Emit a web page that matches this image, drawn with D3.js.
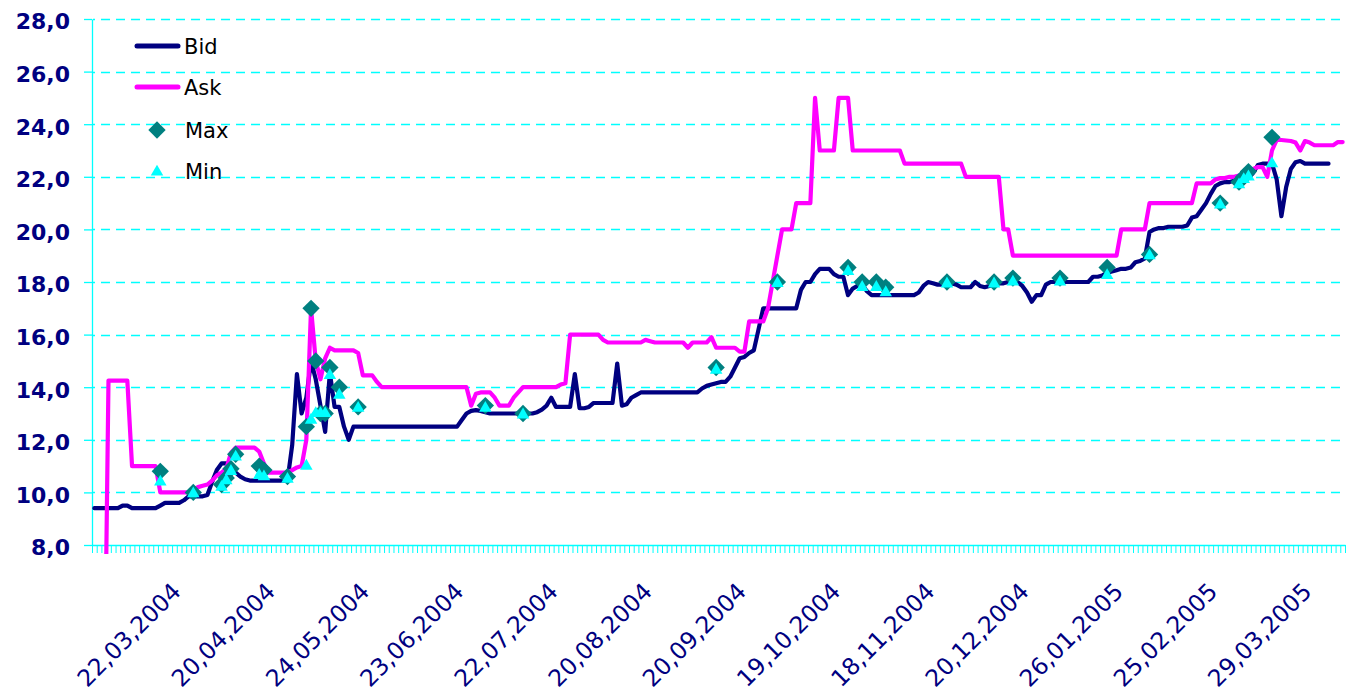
<!DOCTYPE html>
<html>
<head>
<meta charset="utf-8">
<script src="https://cdn.jsdelivr.net/npm/d3@7"></script>
<style>
  body { margin: 0; background: #fff; }
  svg { display: block; font-family: "DejaVu Sans", sans-serif; }
</style>
</head>
<body>
<svg id="chart" width="1350" height="691"></svg>
<script>
// one category per trading day, labels every 20th day
var categoryCount = 266;
var firstLabel = 17, labelEvery = 20;
var tickLabels = ["22,03,2004", "20,04,2004", "24,05,2004", "23,06,2004", "22,07,2004",
  "20,08,2004", "20,09,2004", "19,10,2004", "18,11,2004", "20,12,2004",
  "26,01,2005", "25,02,2005", "29,03,2005"];
var yTicks = [8, 10, 12, 14, 16, 18, 20, 22, 24, 26, 28];

var bid = [
  9.4, 9.4, 9.4, 9.4, 9.4, 9.4, 9.5, 9.5, 9.4, 9.4,
  9.4, 9.4, 9.4, 9.4, 9.5, 9.6, 9.6, 9.6, 9.6, 9.7,
  9.85, 9.85, 9.85, 9.85, 9.9, 10.4, 10.85, 11.1, 11.1, 10.9,
  10.75, 10.6, 10.5, 10.45, 10.45, 10.45, 10.45, 10.45, 10.45, 10.45,
  10.45, 10.45, 11.8, 14.5, 13.0, 13.6, 15.0, 14.3, 13.3, 12.3,
  14.55, 13.25, 13.25, 12.5, 12.0, 12.5, 12.5, 12.5, 12.5, 12.5,
  12.5, 12.5, 12.5, 12.5, 12.5, 12.5, 12.5, 12.5, 12.5, 12.5,
  12.5, 12.5, 12.5, 12.5, 12.5, 12.5, 12.5, 12.5, 12.75, 13.0,
  13.1, 13.13, 13.1, 13.05, 13.0, 13.0, 13.0, 13.0, 13.0, 13.0,
  13.0, 13.0, 13.0, 13.0, 13.05, 13.15, 13.3, 13.6, 13.25, 13.25,
  13.25, 13.25, 14.5, 13.2, 13.2, 13.25, 13.4, 13.4, 13.4, 13.4,
  13.4, 14.9, 13.3, 13.35, 13.6, 13.7, 13.8, 13.8, 13.8, 13.8,
  13.8, 13.8, 13.8, 13.8, 13.8, 13.8, 13.8, 13.8, 13.8, 13.95,
  14.05, 14.1, 14.15, 14.2, 14.2, 14.4, 14.75, 15.1, 15.15, 15.3,
  15.4, 16.2, 17.0, 17.0, 17.0, 17.0, 17.0, 17.0, 17.0, 17.0,
  17.7, 18.0, 18.0, 18.3, 18.5, 18.5, 18.5, 18.3, 18.2, 18.2,
  17.5, 17.75, 17.85, 17.9, 17.65, 17.5, 17.5, 17.5, 17.5, 17.5,
  17.5, 17.5, 17.5, 17.5, 17.5, 17.6, 17.85, 18.0, 17.95, 17.9,
  17.9, 17.95, 17.95, 17.9, 17.8, 17.8, 17.8, 18.0, 17.85, 17.8,
  17.85, 17.9, 17.95, 17.95, 18.0, 18.0, 18.0, 17.85, 17.6, 17.25,
  17.5, 17.5, 17.9, 18.0, 18.0, 18.0, 18.0, 18.0, 18.0, 18.0,
  18.0, 18.0, 18.2, 18.2, 18.25, 18.35, 18.4, 18.45, 18.5, 18.5,
  18.55, 18.75, 18.8, 18.9, 19.9, 20.0, 20.05, 20.05, 20.1, 20.1,
  20.1, 20.1, 20.15, 20.45, 20.5, 20.75, 21.0, 21.35, 21.65, 21.75,
  21.8, 21.8, 21.85, 21.95, 21.95, 21.95, 22.15, 22.45, 22.5, 22.5,
  22.5, 21.9, 20.5, 21.6, 22.3, 22.55, 22.6, 22.5, 22.5, 22.5,
  22.5, 22.5, 22.5, null, null, null
];

var ask = [
  0, 0, 0, 14.25, 14.25, 14.25, 14.25, 14.25, 11.0, 11.0,
  11.0, 11.0, 11.0, 11.0, 10.0, 10.0, 10.0, 10.0, 10.0, 10.0,
  10.0, 10.1, 10.2, 10.25, 10.3, 10.45, 10.65, 10.75, 10.9, 11.5,
  11.7, 11.7, 11.7, 11.7, 11.7, 11.55, 11.1, 10.75, 10.75, 10.75,
  10.75, 10.75, 10.85, 10.95, 11.0, 12.0, 17.0, 15.0, 14.3, 15.1,
  15.5, 15.4, 15.4, 15.4, 15.4, 15.4, 15.3, 14.45, 14.45, 14.45,
  14.2, 14.0, 14.0, 14.0, 14.0, 14.0, 14.0, 14.0, 14.0, 14.0,
  14.0, 14.0, 14.0, 14.0, 14.0, 14.0, 14.0, 14.0, 14.0, 14.0,
  13.3, 13.75, 13.8, 13.8, 13.8, 13.6, 13.3, 13.3, 13.3, 13.6,
  13.8, 14.0, 14.0, 14.0, 14.0, 14.0, 14.0, 14.0, 14.0, 14.1,
  14.15, 16.0, 16.0, 16.0, 16.0, 16.0, 16.0, 16.0, 15.8, 15.7,
  15.7, 15.7, 15.7, 15.7, 15.7, 15.7, 15.7, 15.8, 15.75, 15.7,
  15.7, 15.7, 15.7, 15.7, 15.7, 15.7, 15.5, 15.7, 15.7, 15.7,
  15.7, 15.9, 15.5, 15.5, 15.5, 15.5, 15.5, 15.35, 15.35, 16.5,
  16.5, 16.5, 16.5, 17.0, 18.0, 19.0, 20.0, 20.0, 20.0, 21.0,
  21.0, 21.0, 21.0, 25.0, 23.0, 23.0, 23.0, 23.0, 25.0, 25.0,
  25.0, 23.0, 23.0, 23.0, 23.0, 23.0, 23.0, 23.0, 23.0, 23.0,
  23.0, 23.0, 22.5, 22.5, 22.5, 22.5, 22.5, 22.5, 22.5, 22.5,
  22.5, 22.5, 22.5, 22.5, 22.5, 22.0, 22.0, 22.0, 22.0, 22.0,
  22.0, 22.0, 22.0, 20.0, 20.0, 19.0, 19.0, 19.0, 19.0, 19.0,
  19.0, 19.0, 19.0, 19.0, 19.0, 19.0, 19.0, 19.0, 19.0, 19.0,
  19.0, 19.0, 19.0, 19.0, 19.0, 19.0, 19.0, 19.0, 20.0, 20.0,
  20.0, 20.0, 20.0, 20.0, 21.0, 21.0, 21.0, 21.0, 21.0, 21.0,
  21.0, 21.0, 21.0, 21.0, 21.75, 21.75, 21.75, 21.75, 21.9, 21.95,
  21.95, 22.0, 22.0, 22.05, 22.1, 22.15, 22.3, 22.37, 22.37, 22.0,
  23.0, 23.4, 23.4, 23.38, 23.36, 23.3, 23.0, 23.36, 23.3, 23.2,
  23.2, 23.2, 23.2, 23.2, 23.32, 23.32
];

// days with trades: category index, max and min price
var markIndex = [14, 21, 27, 28, 29, 30, 35, 36, 41, 45, 46, 47, 48, 49, 50, 52, 56,
  83, 91, 132, 145, 160, 163, 166, 168, 181, 191, 195, 205, 215, 224, 239, 243, 244, 245, 250];
var maxValues = [10.8, 10.0, 10.3, 10.55, 10.9, 11.45, 11.0, 10.85, 10.6, 12.5, 17.0, 15.0, 13.0, 13.0, 14.75, 14.0, 13.25,
  13.3, 13.0, 14.75, 18.0, 18.55, 18.0, 18.0, 17.8, 18.0, 18.0, 18.15, 18.15, 18.55, 19.05, 21.0, 21.8, 22.0, 22.2, 23.5];
var minValues = [10.4, 9.95, 10.2, 10.45, 10.8, 11.35, 10.65, 10.6, 10.5, 11.0, 12.75, 13.0, 13.0, 13.0, 14.45, 13.7, 13.2,
  13.2, 12.95, 14.65, 17.95, 18.4, 17.8, 17.8, 17.6, 17.93, 17.93, 18.0, 18.0, 18.25, 19.0, 20.93, 21.7, 21.9, 22.0, 22.5];

(function () {
	var svg = d3.select("#chart");
	var left = 92, right = 1345, top = 19, bottom = 545;
	var navy = "#000080", cyan = "#00ffff", pink = "#ff00ff", teal = "#008080";

	var x = d3.scaleBand().domain(d3.range(categoryCount)).range([left, right]);
	var cx = function (i) { return x(i) + x.bandwidth() / 2; };
	var edge = d3.scaleLinear().domain([0, categoryCount]).range([left, right]);
	var y = d3.scaleLinear().domain([8, 28]).range([bottom, top]);

	// dashed grid
	svg.append("g").selectAll("line").data(yTicks.slice(1)).join("line")
		.attr("x1", left + 1).attr("x2", right)
		.attr("y1", function (d) { return Math.round(y(d)) + 0.5; })
		.attr("y2", function (d) { return Math.round(y(d)) + 0.5; })
		.attr("stroke", cyan).attr("stroke-width", 1.3)
		.attr("stroke-dasharray", "9,6").attr("stroke-dashoffset", -8);

	// category ticks along the bottom
	var xAxis = svg.append("g").attr("transform", "translate(0," + bottom + ")")
		.call(d3.axisBottom(edge).tickValues(d3.range(categoryCount + 1))
			.tickSize(8).tickSizeOuter(0).tickFormat(""));
	xAxis.select(".domain").attr("stroke", cyan).attr("stroke-width", 1.3);
	xAxis.selectAll(".tick line").attr("stroke", cyan).attr("stroke-width", 1);

	// rotated date labels
	var labelIdx = tickLabels.map(function (d, k) { return firstLabel + k * labelEvery; });
	svg.append("g").selectAll("text").data(labelIdx).join("text")
		.attr("transform", function (i) { return "translate(" + (cx(i) + 8) + "," + 593 + ") rotate(-45)"; })
		.attr("text-anchor", "end")
		.attr("fill", navy)
		.style("font-size", "23.5px")
		.text(function (d, k) { return tickLabels[k]; });

	// value axis
	var yAxis = svg.append("g").attr("transform", "translate(" + left + ",0)")
		.call(d3.axisLeft(y).tickValues(yTicks).tickSize(8).tickSizeOuter(0).tickPadding(14)
			.tickFormat(function (d) { return d.toFixed(1).replace(".", ","); }));
	yAxis.select(".domain").attr("stroke", cyan).attr("stroke-width", 1.3);
	yAxis.selectAll(".tick line").attr("stroke", cyan).attr("stroke-width", 1.3);
	yAxis.selectAll(".tick text")
		.attr("fill", navy).attr("dy", "0.45em")
		.style("font-size", "22px").style("font-weight", "bold")
		.style("font-family", "'DejaVu Sans', sans-serif");

	svg.append("clipPath").attr("id", "plot-clip")
		.append("rect").attr("x", left).attr("y", 0).attr("width", right - left + 6).attr("height", 554);

	var line = d3.line()
		.defined(function (d) { return d != null; })
		.x(function (d, i) { return cx(i); })
		.y(function (d) { return y(d); });

	var plot = svg.append("g").attr("clip-path", "url(#plot-clip)");
	[[bid, navy], [ask, pink]].forEach(function (s) {
		plot.append("path").datum(s[0])
			.attr("d", line)
			.attr("fill", "none").attr("stroke", s[1]).attr("stroke-width", 4.2)
			.attr("stroke-linejoin", "round").attr("stroke-linecap", "round");
	});

	var diamond = d3.symbol().type(d3.symbolSquare).size(150);
	var triangle = d3.symbol().type(d3.symbolTriangle).size(68);

	plot.append("g").selectAll("path").data(markIndex).join("path")
		.attr("d", diamond)
		.attr("transform", function (i, k) { return "translate(" + cx(i) + "," + y(maxValues[k]) + ") rotate(45)"; })
		.attr("fill", teal);
	plot.append("g").selectAll("path").data(markIndex).join("path")
		.attr("d", triangle)
		.attr("transform", function (i, k) { return "translate(" + cx(i) + "," + y(minValues[k]) + ")"; })
		.attr("fill", cyan);

	// legend
	var legend = svg.append("g").style("font-size", "21px").attr("fill", "#000");
	[["Bid", navy, 46], ["Ask", pink, 87]].forEach(function (d) {
		legend.append("line").attr("x1", 137).attr("x2", 178).attr("y1", d[2]).attr("y2", d[2])
			.attr("stroke", d[1]).attr("stroke-width", 5).attr("stroke-linecap", "round");
		legend.append("text").attr("x", 184).attr("y", d[2] + 8).text(d[0]);
	});
	legend.append("path").attr("d", diamond).attr("fill", teal)
		.attr("transform", "translate(157,130) rotate(45)");
	legend.append("text").attr("x", 185).attr("y", 138).text("Max");
	legend.append("path").attr("d", triangle).attr("fill", cyan)
		.attr("transform", "translate(157,172)");
	legend.append("text").attr("x", 185).attr("y", 179).text("Min");
})();
</script>
</body>
</html>
